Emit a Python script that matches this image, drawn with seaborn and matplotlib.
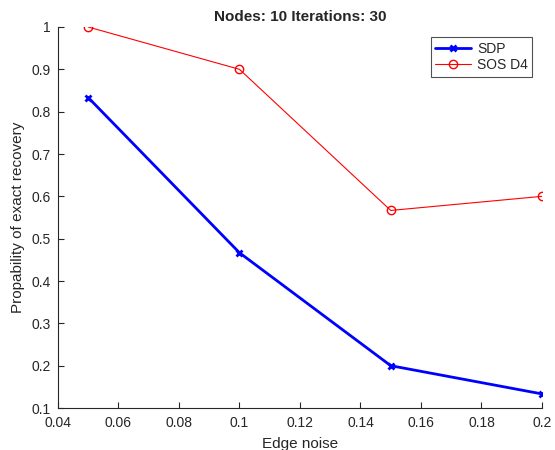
import pandas as pd
import matplotlib
matplotlib.use('Agg')
import matplotlib.pyplot as plt
import seaborn as sns

# data
noise = [0.05, 0.10, 0.15, 0.20]
sdp = [0.8333, 0.4667, 0.2000, 0.1333]
sos_d4 = [1.0000, 0.9000, 0.5667, 0.6000]

sns.set_style('white')
plt.rcParams['font.family'] = ['Liberation Sans', 'DejaVu Sans']

df = pd.DataFrame({'noise': noise * 2,
                   'prob': sdp + sos_d4,
                   'method': ['SDP'] * 4 + ['SOS D4'] * 4})

fig = plt.figure(figsize=(5.55, 4.5), dpi=100)
ax = fig.add_axes([0.1045, 0.0933, 0.872, 0.8467])

sns.lineplot(data=df[df.method == 'SDP'], x='noise', y='prob', ax=ax,
             color='#0000ff', linewidth=2, marker='x', markersize=5,
             markeredgecolor='#0000ff', markeredgewidth=2, label='SDP')
sns.lineplot(data=df[df.method == 'SOS D4'], x='noise', y='prob', ax=ax,
             color='#ff0000', linewidth=0.8, marker='o', markersize=6,
             markerfacecolor='none', markeredgecolor='#ff0000',
             markeredgewidth=1, label='SOS D4')

ax.set_xlim(0.04, 0.2)
ax.set_ylim(0.1, 1.0)
ax.set_xticks([0.04, 0.06, 0.08, 0.1, 0.12, 0.14, 0.16, 0.18, 0.2])
ax.set_xticklabels(['0.04', '0.06', '0.08', '0.1', '0.12', '0.14', '0.16', '0.18', '0.2'])
ax.set_yticks([0.1, 0.2, 0.3, 0.4, 0.5, 0.6, 0.7, 0.8, 0.9, 1.0])
ax.set_yticklabels(['0.1', '0.2', '0.3', '0.4', '0.5', '0.6', '0.7', '0.8', '0.9', '1'])
ax.tick_params(axis='both', which='both', direction='in', bottom=True, left=True,
               labelsize=10, colors='#262626', length=4, width=0.8)
ax.tick_params(axis='x', pad=6)
ax.tick_params(axis='y', pad=5)

for s in ['top', 'right']:
    ax.spines[s].set_visible(False)
for s in ['left', 'bottom']:
    ax.spines[s].set_color('#262626')
    ax.spines[s].set_linewidth(0.8)

ax.set_xlabel('Edge noise', fontsize=11, labelpad=5)
ax.set_ylabel('Propability of exact recovery', fontsize=11, labelpad=5)
ax.set_title('Nodes: 10 Iterations: 30', fontsize=11, fontweight='bold', pad=4)

leg = ax.legend(loc='upper right', bbox_to_anchor=(0.985, 0.98), fontsize=10,
                frameon=True, fancybox=False, edgecolor='#262626',
                handlelength=2.6, borderpad=0.3, labelspacing=0.2,
                handletextpad=0.4, borderaxespad=0.2)
leg.get_frame().set_linewidth(0.8)

fig.savefig('out.png', dpi=100)
